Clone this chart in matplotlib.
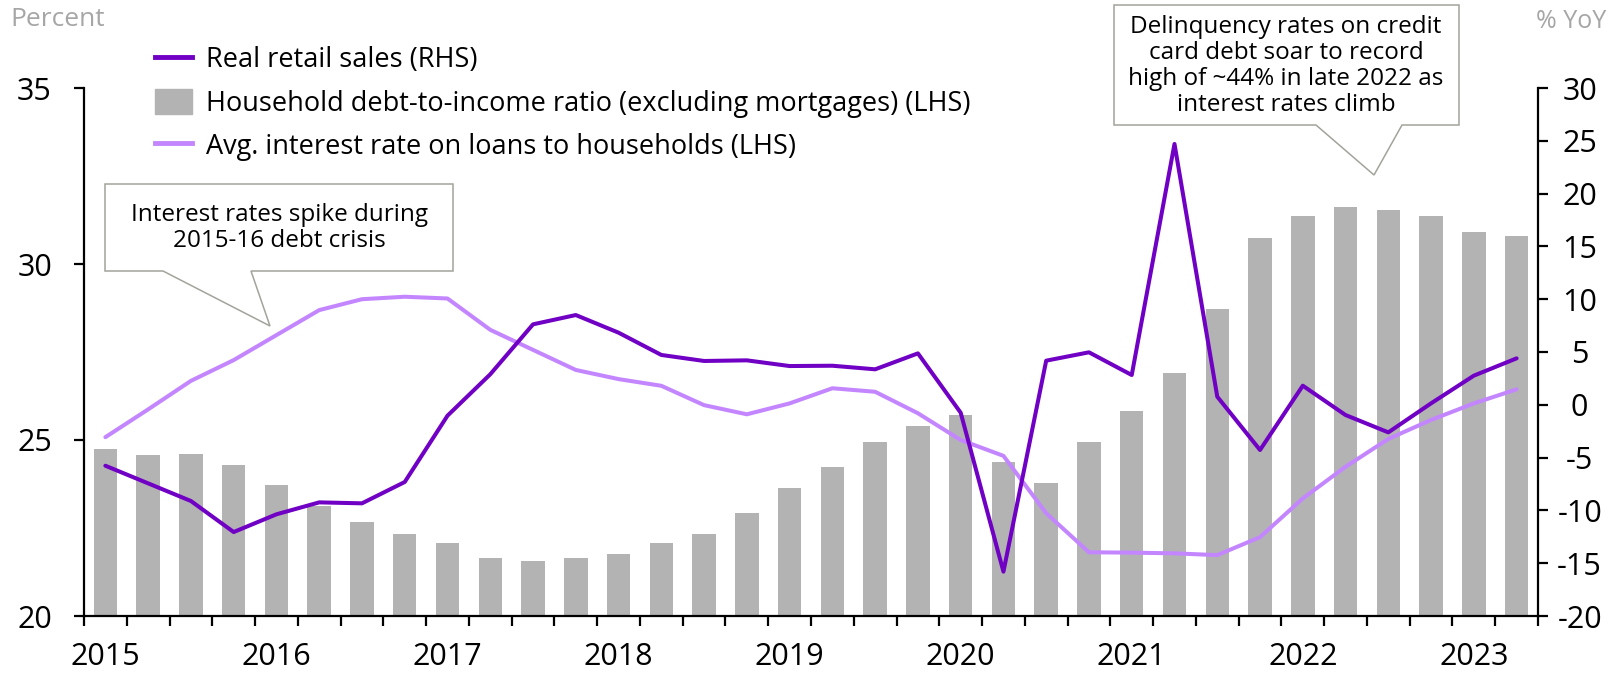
import matplotlib
matplotlib.use("Agg")
import matplotlib.pyplot as plt
from matplotlib.patches import Polygon, Patch
from matplotlib.lines import Line2D
import numpy as np

plt.rcParams['font.family'] = ['Open Sans', 'DejaVu Sans']
plt.rcParams['axes.unicode_minus'] = False

years = ["2015", "2016", "2017", "2018", "2019", "2020", "2021", "2022", "2023"]
quarters_per_year = 4

debt_to_income = [24.75, 24.57, 24.61, 24.30, 23.71, 23.13, 22.66, 22.32, 22.06, 21.64,
                  21.55, 21.64, 21.76, 22.07, 22.32, 22.93, 23.63, 24.22, 24.94, 25.41,
                  25.70, 24.37, 23.77, 24.95, 25.83, 26.91, 28.71, 30.75, 31.37, 31.63,
                  31.53, 31.36, 30.90, 30.80]
retail_sales = [-5.77, -7.44, -9.11, -12.05, -10.37, -9.24, -9.33, -7.31, -1.03, 2.89,
                7.62, 8.5, 6.83, 4.72, 4.15, 4.21, 3.67, 3.70, 3.36, 4.87,
                -0.75, -15.8, 4.18, 4.97, 2.82, 24.7, 0.77, -4.28, 1.81, -0.97,
                -2.61, 0.14, 2.76, 4.4]
interest_rate = [25.08, 25.87, 26.68, 27.27, 27.98, 28.69, 29.0, 29.07, 29.02, 28.13,
                 27.56, 26.99, 26.73, 26.54, 25.99, 25.73, 26.04, 26.47, 26.37, 25.76,
                 25.0, 24.55, 22.92, 21.81, 21.80, 21.78, 21.73, 22.24, 23.34, 24.24,
                 25.03, 25.57, 26.04, 26.44]

left_ticks = [20, 25, 30, 35]
right_ticks = [-20, -15, -10, -5, 0, 5, 10, 15, 20, 25, 30]

legend_labels = ["Real retail sales (RHS)",
                 "Household debt-to-income ratio (excluding mortgages) (LHS)",
                 "Avg. interest rate on loans to households (LHS)"]
note1 = "Interest rates spike during\n2015-16 debt crisis"
note2 = "Delinquency rates on credit\ncard debt soar to record\nhigh of ~44% in late 2022 as\ninterest rates climb"

W, H = 1619, 676
fig = plt.figure(figsize=(W / 100, H / 100), dpi=100)
ax = fig.add_axes([84 / W, 1 - 616 / H, (1538 - 84) / W, (616 - 88) / H])
ax2 = ax.twinx()

n = len(debt_to_income)
x = np.arange(n)
BAR = '#B3B3B3'
DARK = '#7000C4'
LIGHT = '#C386FF'

ax.bar(x, debt_to_income, width=0.55, color=BAR, zorder=1)
ax.plot(x, interest_rate, color=LIGHT, lw=2.9, zorder=3, solid_capstyle='round')
ax2.plot(x, retail_sales, color=DARK, lw=2.9, zorder=4, solid_capstyle='round')

ax.set_xlim(-0.5, n - 0.5)
ax.set_ylim(20, 35)
ax2.set_ylim(-20, 30)

ax.set_yticks(left_ticks)
ax.set_yticklabels([str(t) for t in left_ticks])
ax2.set_yticks(right_ticks)
ax2.set_yticklabels([str(t) for t in right_ticks])
for lab in ax2.get_yticklabels():
    lab.set_horizontalalignment('center')

ax.set_xticks(np.arange(-0.5, n, 1.0))
ax.set_xticklabels([])
ax.set_xticks(np.arange(0, n, quarters_per_year), minor=True)
ax.set_xticklabels(years, minor=True)
ax.tick_params(axis='x', which='major', length=7, width=1.6, direction='out', color='black')
ax.tick_params(axis='x', which='minor', length=0, pad=19, labelsize=22)
ax.tick_params(axis='y', length=7, width=1.6, labelsize=22, pad=16)
ax2.tick_params(axis='y', length=7, width=1.6, labelsize=22, pad=23)

for a in (ax, ax2):
    a.spines['top'].set_visible(False)
    for s in ('left', 'right', 'bottom'):
        a.spines[s].set_linewidth(1.6)
ax.spines['right'].set_visible(False)
ax2.spines['left'].set_visible(False)
ax2.spines['bottom'].set_visible(False)
ax2.patch.set_visible(False)

fig.text(10 / W, 1 - 20 / H, "Percent", fontsize=19, color='#A6A6A6', va='center', ha='left')
fig.text(1606 / W, 1 - 21 / H, "% YoY", fontsize=18, color='#A6A6A6', va='center', ha='right')

handles = [Line2D([0], [0], color=DARK, lw=3.5),
           Patch(color=BAR),
           Line2D([0], [0], color=LIGHT, lw=3.5)]
fig.legend(handles, legend_labels, loc='upper left', bbox_to_anchor=(155 / W, 1 - 46 / H),
           frameon=False, fontsize=19.5, handlelength=1.35, handleheight=1.0,
           handletextpad=0.55, labelspacing=0.55, borderaxespad=0, borderpad=0)

def callout(left, right, top, bottom, b1, b2, tip):
    pts = [(left, top), (right, top), (right, bottom), (b2, bottom), tip,
           (b1, bottom), (left, bottom)]
    pts = [(px / W, 1 - py / H) for px, py in pts]
    poly = Polygon(pts, closed=True, transform=fig.transFigure, facecolor='white',
                   edgecolor='#A3A39C', lw=1.1, zorder=10)
    fig.add_artist(poly)

callout(105, 453, 184, 271, 163, 251, (270, 326))
fig.text(279 / W, 1 - 228 / H, note1, ha='center', va='center', fontsize=17.5,
         linespacing=1.12, zorder=11)
callout(1114, 1459, 5, 125, 1316, 1402, (1374, 175))
fig.text(1286 / W, 1 - 66 / H, note2, ha='center', va='center', fontsize=17.5,
         linespacing=1.12, zorder=11)

fig.savefig("out.png", dpi=100)
